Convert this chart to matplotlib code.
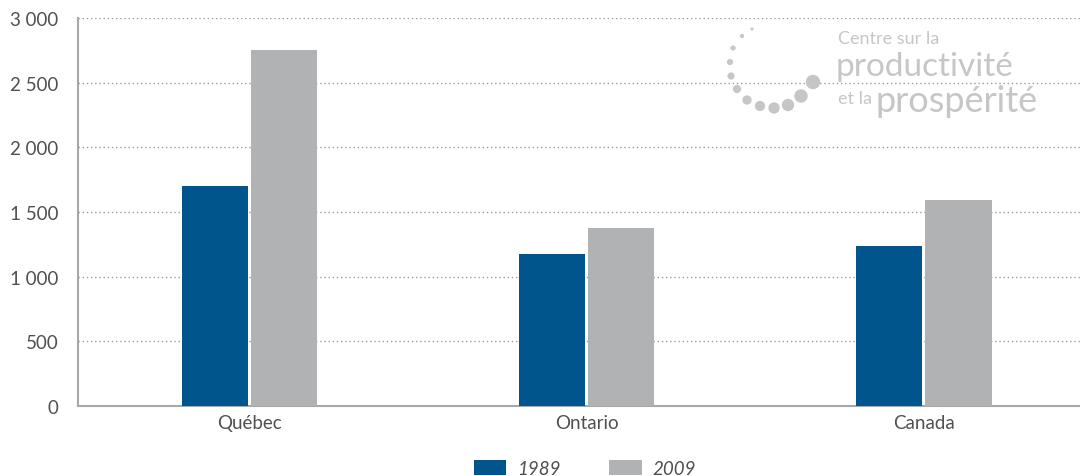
import matplotlib
matplotlib.use("Agg")
import matplotlib.pyplot as plt
import numpy as np
from matplotlib.ticker import FuncFormatter

categories = ["Québec", "Ontario", "Canada"]
values_1989 = [1700, 1175, 1240]
values_2009 = [2750, 1380, 1590]
series_labels = ["1989", "2009"]
yticks = [0, 500, 1000, 1500, 2000, 2500, 3000]

blue = "#00558C"
grey = "#B1B2B4"
txt = "#505050"

plt.rcParams['font.family'] = ['Lato', 'DejaVu Sans']

fig = plt.figure(figsize=(10.8, 4.77), dpi=100)
ax = fig.add_axes([78/1080, 1-407/477, 1-78/1080, (407-19)/477])

x = np.arange(len(categories))
w = 0.196
gap = 0.0045
b1 = ax.bar(x - w/2 - gap, values_1989, w, color=blue, label=series_labels[0], zorder=3)
b2 = ax.bar(x + w/2 + gap, values_2009, w, color=grey, label=series_labels[1], zorder=3)

ax.set_xlim(-0.51, 2.463)
ax.set_ylim(0, 3000)
ax.set_yticks(yticks)
ax.yaxis.set_major_formatter(FuncFormatter(lambda v, p: f"{int(v):,}".replace(",", " ")))
for yv in yticks[1:]:
    ax.axhline(yv, color="#9a9a9a", lw=1.0, ls=(0, (1, 2)), zorder=1)
ax.set_xticks(x)
ax.set_xticklabels(categories)
ax.tick_params(axis="both", length=0, labelsize=13.5, colors=txt, pad=14)
ax.tick_params(axis="x", pad=6)
for s in ["top", "right"]:
    ax.spines[s].set_visible(False)
for s in ["left", "bottom"]:
    ax.spines[s].set_color("#a8a8a8")
    ax.spines[s].set_linewidth(1.5)

leg = fig.legend(handles=[b1, b2], labels=series_labels, loc="upper left",
                 bbox_to_anchor=(468/1080, 1-455/477), ncol=2, frameon=False,
                 handlelength=1.75, handleheight=0.9, handletextpad=0.55,
                 columnspacing=2.6, borderaxespad=0, borderpad=0.3,
                 prop={"style": "italic", "size": 13.5})
for t in leg.get_texts():
    t.set_color(txt)

# watermark logo
logo = "#c5c6c8"
fig.text(838/1080, 1-44/477, "Centre sur la", fontsize=13, color=logo)
fig.text(836/1080, 1-76/477, "productivité", fontsize=24, color=logo)
fig.text(838/1080, 1-104/477, "et la", fontsize=13, color=logo)
fig.text(875/1080, 1-112/477, "prospérité", fontsize=26, color=logo)
dots_x = [752, 742, 733, 730, 731, 737, 747, 760, 774, 788, 801, 813]
dots_y = [30, 37, 49, 63, 77, 90, 101, 107, 109, 106, 97, 83]
sizes = np.linspace(3, 14, len(dots_x)) ** 2
fig_ax = fig.add_axes([0, 0, 1, 1], facecolor="none")
fig_ax.set_xlim(0, 1080); fig_ax.set_ylim(477, 0); fig_ax.axis("off")
fig_ax.scatter(dots_x, dots_y, s=sizes * 0.55, color=logo, edgecolors="none")

fig.savefig("out.png", dpi=100)
